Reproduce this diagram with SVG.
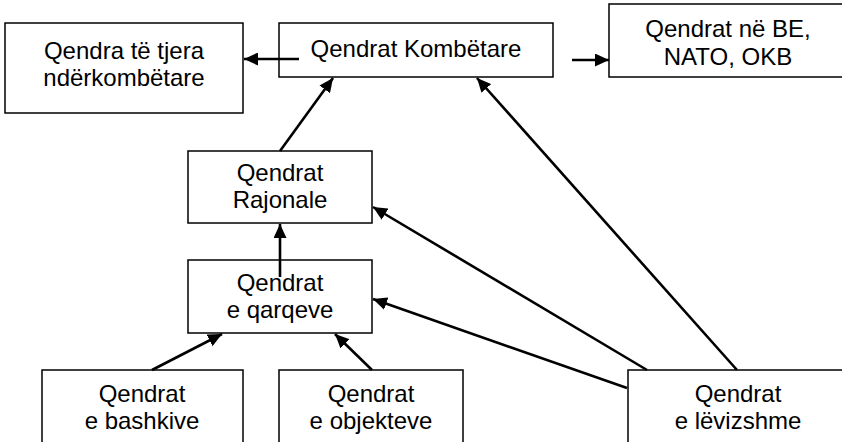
<svg xmlns="http://www.w3.org/2000/svg" width="842" height="442" viewBox="0 0 842 442">
  <style>
    .box { fill: #ffffff; stroke: #000000; stroke-width: 1.5; }
    .lbl { font-family: "Liberation Sans", Arial, sans-serif; font-size: 24px; fill: #000000; text-anchor: middle; }
    .edge { stroke: #000000; stroke-width: 2.6; fill: none; marker-end: url(#head); }
  </style>
  <defs>
    <marker id="head" markerUnits="userSpaceOnUse" markerWidth="15" markerHeight="13" refX="14" refY="6.5" orient="auto">
      <path d="M0,0 L14,6.5 L0,13 z" fill="#000000"/>
    </marker>
  </defs>
  <rect width="842" height="442" fill="#ffffff"/>

  <g id="n-nderkombetare">
    <rect class="box" x="5" y="23" width="238" height="90"/>
    <text class="lbl" x="124" y="59">Qendra të tjera</text>
    <text class="lbl" x="124" y="86">ndërkombëtare</text>
  </g>
  <g id="n-kombetare">
    <rect class="box" x="279" y="23" width="274" height="54"/>
    <text class="lbl" x="416" y="57">Qendrat Kombëtare</text>
  </g>
  <g id="n-be-nato-okb">
    <rect class="box" x="609" y="4" width="240" height="73"/>
    <text class="lbl" x="728" y="37">Qendrat në BE,</text>
    <text class="lbl" x="728" y="65">NATO, OKB</text>
  </g>
  <g id="n-rajonale">
    <rect class="box" x="188" y="151" width="184" height="72"/>
    <text class="lbl" x="280" y="181">Qendrat</text>
    <text class="lbl" x="280" y="208">Rajonale</text>
  </g>
  <g id="n-qarqeve">
    <rect class="box" x="188" y="260" width="184" height="73"/>
    <text class="lbl" x="280" y="291">Qendrat</text>
    <text class="lbl" x="280" y="318">e qarqeve</text>
  </g>
  <g id="n-bashkive">
    <rect class="box" x="42" y="370" width="201" height="80"/>
    <text class="lbl" x="142" y="402">Qendrat</text>
    <text class="lbl" x="142" y="429">e bashkive</text>
  </g>
  <g id="n-objekteve">
    <rect class="box" x="279" y="370" width="184" height="80"/>
    <text class="lbl" x="371" y="402">Qendrat</text>
    <text class="lbl" x="371" y="429">e objekteve</text>
  </g>
  <g id="n-levizshme">
    <rect class="box" x="628" y="370" width="220" height="80"/>
    <text class="lbl" x="738" y="402">Qendrat</text>
    <text class="lbl" x="738" y="429">e lëvizshme</text>
  </g>

  <g id="connectors">
    <line class="edge" x1="299" y1="59" x2="244" y2="59"/>
    <line class="edge" x1="572" y1="60" x2="609" y2="60"/>
    <line class="edge" x1="280" y1="151" x2="333" y2="78"/>
    <line class="edge" x1="280" y1="277" x2="280" y2="224"/>
    <line class="edge" x1="152" y1="370" x2="222" y2="334"/>
    <line class="edge" x1="372" y1="370" x2="335" y2="334"/>
    <line class="edge" x1="647" y1="370" x2="373" y2="207"/>
    <line class="edge" x1="627" y1="388" x2="373" y2="299"/>
    <line class="edge" x1="737" y1="370" x2="477" y2="78"/>
  </g>
</svg>
